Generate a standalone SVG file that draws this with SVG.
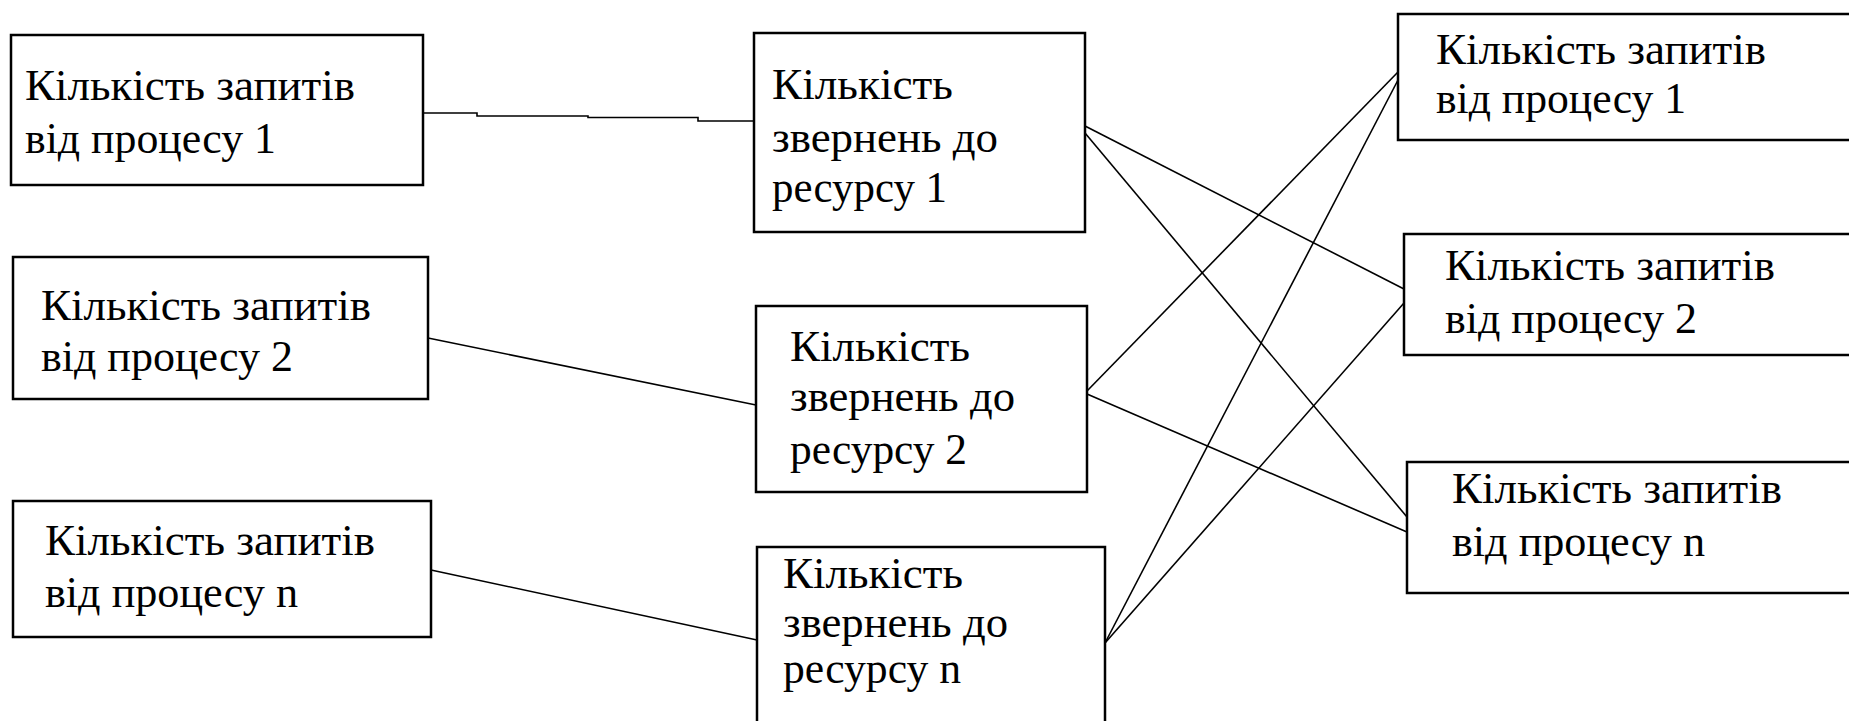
<svg xmlns="http://www.w3.org/2000/svg" width="1849" height="721" viewBox="0 0 1849 721">
<style>
.box{fill:#fff;stroke:#000;stroke-width:2.5}
.c{stroke:#000;stroke-width:1.6;fill:none}
</style>
<rect width="1849" height="721" fill="#fff"/>
<g id="connectors">
<path class="c" d="M423,113 H477 V116 H588 V117.5 H698 V121 H754"/>
<line class="c" x1="428" y1="338" x2="756" y2="405"/>
<line class="c" x1="431" y1="570" x2="757" y2="640"/>
<line class="c" x1="1085" y1="126" x2="1404" y2="289"/>
<line class="c" x1="1085" y1="133" x2="1407" y2="517"/>
<line class="c" x1="1087" y1="391" x2="1398" y2="72"/>
<line class="c" x1="1087" y1="394" x2="1407" y2="532"/>
<line class="c" x1="1105" y1="643" x2="1398" y2="80"/>
<line class="c" x1="1105" y1="643" x2="1404" y2="303"/>
</g>
<g font-family="Liberation Serif, DejaVu Serif, Noto Serif, FreeSerif, Times, serif" font-size="44" fill="#000" lengthAdjust="spacingAndGlyphs">
<g id="l1"><rect class="box" x="11" y="35" width="412" height="150"/><text x="25" y="100" textLength="330" lengthAdjust="spacingAndGlyphs">Кількість запитів</text><text x="25" y="153" textLength="251" lengthAdjust="spacingAndGlyphs">від процесу 1</text></g>
<g id="l2"><rect class="box" x="13" y="257" width="415" height="142"/><text x="41" y="320" textLength="330" lengthAdjust="spacingAndGlyphs">Кількість запитів</text><text x="41" y="371" textLength="252" lengthAdjust="spacingAndGlyphs">від процесу 2</text></g>
<g id="l3"><rect class="box" x="13" y="501" width="418" height="136"/><text x="45" y="555" textLength="330" lengthAdjust="spacingAndGlyphs">Кількість запитів</text><text x="45" y="607" textLength="253" lengthAdjust="spacingAndGlyphs">від процесу n</text></g>
<g id="m1"><rect class="box" x="754" y="33" width="331" height="199"/><text x="772" y="99" textLength="181" lengthAdjust="spacingAndGlyphs">Кількість</text><text x="772" y="152" textLength="226" lengthAdjust="spacingAndGlyphs">звернень до</text><text x="772" y="202" textLength="175" lengthAdjust="spacingAndGlyphs">ресурсу 1</text></g>
<g id="m2"><rect class="box" x="756" y="306" width="331" height="186"/><text x="790" y="361" textLength="180" lengthAdjust="spacingAndGlyphs">Кількість</text><text x="790" y="411" textLength="225" lengthAdjust="spacingAndGlyphs">звернень до</text><text x="790" y="464" textLength="177" lengthAdjust="spacingAndGlyphs">ресурсу 2</text></g>
<g id="m3"><rect class="box" x="757" y="547" width="348" height="190"/><text x="783" y="588" textLength="180" lengthAdjust="spacingAndGlyphs">Кількість</text><text x="783" y="637" textLength="225" lengthAdjust="spacingAndGlyphs">звернень до</text><text x="783" y="683" textLength="178" lengthAdjust="spacingAndGlyphs">ресурсу n</text></g>
<g id="r1"><rect class="box" x="1398" y="14" width="460" height="126"/><text x="1436" y="64" textLength="330" lengthAdjust="spacingAndGlyphs">Кількість запитів</text><text x="1436" y="113" textLength="250" lengthAdjust="spacingAndGlyphs">від процесу 1</text></g>
<g id="r2"><rect class="box" x="1404" y="234" width="460" height="121"/><text x="1445" y="280" textLength="330" lengthAdjust="spacingAndGlyphs">Кількість запитів</text><text x="1445" y="333" textLength="252" lengthAdjust="spacingAndGlyphs">від процесу 2</text></g>
<g id="r3"><rect class="box" x="1407" y="462" width="460" height="131"/><text x="1452" y="503" textLength="330" lengthAdjust="spacingAndGlyphs">Кількість запитів</text><text x="1452" y="556" textLength="253" lengthAdjust="spacingAndGlyphs">від процесу n</text></g>
</g>
</svg>
